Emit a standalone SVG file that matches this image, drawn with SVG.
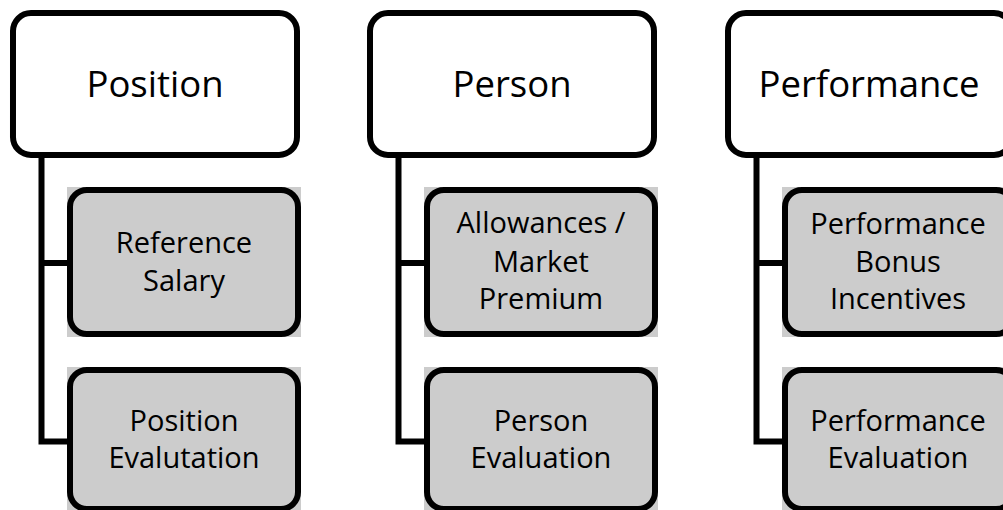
<svg xmlns="http://www.w3.org/2000/svg" width="1003" height="510" viewBox="0 0 1003 510">
  <style>
    .head rect { fill: #ffffff; stroke: #000000; stroke-width: 6; }
    .item .bg { fill: #cccccc; stroke: none; }
    .item .frame { fill: none; stroke: #000000; stroke-width: 6; }
    .link { fill: none; stroke: #000000; stroke-width: 6; stroke-linejoin: miter; }
    text { font-family: "Open Sans", "Noto Sans", sans-serif; fill: #000000; text-anchor: middle; }
    .t1 { font-size: 36.5px; }
    .t2 { font-size: 29px; }
  </style>

  <!-- connectors: trunk from each header down to its two items -->
  <g id="connectors">
    <path class="link" d="M41.5 156 V441.5 H72 M41.5 263 H72"/>
    <path class="link" d="M398.5 156 V441.5 H429 M398.5 263 H429"/>
    <path class="link" d="M756.5 156 V441.5 H787 M756.5 263 H787"/>
  </g>

  <!-- column 1 -->
  <g id="position" class="head">
    <rect x="13" y="13" width="284" height="142" rx="18"/>
    <text class="t1" x="155" y="97">Position</text>
  </g>
  <g id="reference-salary" class="item">
    <rect class="bg" x="67" y="187" width="234" height="150"/>
    <rect class="frame" x="70" y="190" width="228" height="144" rx="17"/>
    <text class="t2" x="184" y="253">Reference</text>
    <text class="t2" x="184" y="291">Salary</text>
  </g>
  <g id="position-evaluation" class="item">
    <rect class="bg" x="67" y="367" width="234" height="145"/>
    <rect class="frame" x="70" y="370" width="228" height="139" rx="17"/>
    <text class="t2" x="184" y="431">Position</text>
    <text class="t2" x="184" y="468">Evalutation</text>
  </g>

  <!-- column 2 -->
  <g id="person" class="head">
    <rect x="370" y="13" width="284" height="142" rx="18"/>
    <text class="t1" x="512" y="97">Person</text>
  </g>
  <g id="allowances" class="item">
    <rect class="bg" x="424" y="187" width="234" height="150"/>
    <rect class="frame" x="427" y="190" width="228" height="144" rx="17"/>
    <text class="t2" x="541" y="233">Allowances /</text>
    <text class="t2" x="541" y="272">Market</text>
    <text class="t2" x="541" y="309">Premium</text>
  </g>
  <g id="person-evaluation" class="item">
    <rect class="bg" x="424" y="367" width="234" height="145"/>
    <rect class="frame" x="427" y="370" width="228" height="139" rx="17"/>
    <text class="t2" x="541" y="431">Person</text>
    <text class="t2" x="541" y="468">Evaluation</text>
  </g>

  <!-- column 3 -->
  <g id="performance" class="head">
    <rect x="728" y="13" width="284" height="142" rx="18"/>
    <text class="t1" x="869" y="97">Performance</text>
  </g>
  <g id="performance-bonus" class="item">
    <rect class="bg" x="782" y="187" width="234" height="150"/>
    <rect class="frame" x="785" y="190" width="228" height="144" rx="17"/>
    <text class="t2" x="898" y="234">Performance</text>
    <text class="t2" x="898" y="272">Bonus</text>
    <text class="t2" x="898" y="309">Incentives</text>
  </g>
  <g id="performance-evaluation" class="item">
    <rect class="bg" x="782" y="367" width="234" height="145"/>
    <rect class="frame" x="785" y="370" width="228" height="139" rx="17"/>
    <text class="t2" x="898" y="431">Performance</text>
    <text class="t2" x="898" y="468">Evaluation</text>
  </g>
</svg>
